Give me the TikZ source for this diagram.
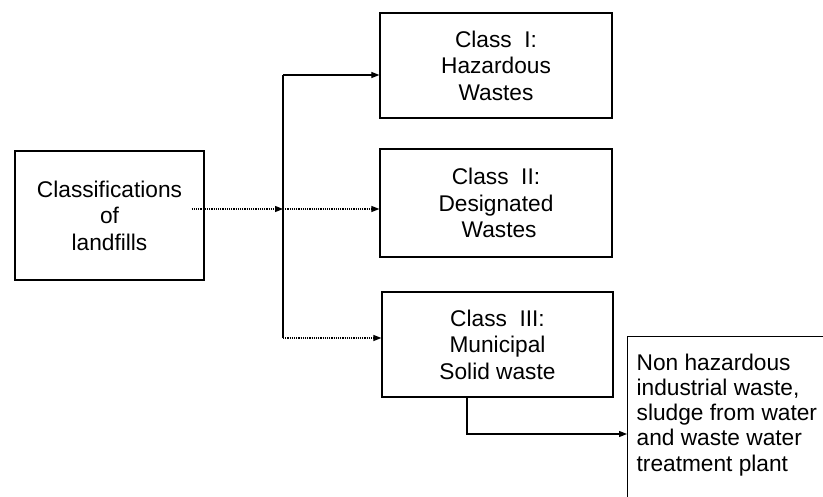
\documentclass[tikz,border=0pt]{standalone}
\usepackage{fontspec}
\setmainfont{Liberation Sans}
\usetikzlibrary{arrows.meta}
\begin{document}
\begin{tikzpicture}[x=1pt,y=-1pt,
  box/.style={draw, line width=1.3pt, align=center, inner sep=0pt},
  txt/.style={font=\fontsize{22.7}{26.5}\selectfont},
  conn/.style={line width=1.2pt},
  dotconn/.style={line width=1.2pt, densely dotted},
  tip/.style={-{Triangle[length=8pt,width=6pt]}}]
\useasboundingbox (0,0) rectangle (823,497);
\fill[white] (0,0) rectangle (823,497);
\node[box, txt, minimum width=189pt, minimum height=129pt] (cls) at (109.5,215.5) {Classifications\\of\\landfills};
\node[box, txt, minimum width=232pt, minimum height=105pt] (c1) at (496,65.5) {Class\ \ I:\\Hazardous\\Wastes};
\node[box, txt, minimum width=232pt, minimum height=108pt] (c2) at (496,203) {Class\ \ II:\\Designated\\\ Wastes};
\node[box, txt, minimum width=231pt, minimum height=105pt] (c3) at (497.5,344.5) {Class\ \ III:\\Municipal\\Solid waste};
\node[draw, line width=1.3pt, txt, anchor=north west, inner xsep=9pt, inner ysep=17pt] (nh) at (627,336)
  {\parbox[t][170pt][t]{300pt}{\raggedright\fontsize{22.7}{25.3}\selectfont Non hazardous\\industrial waste,\\sludge from water\\and waste water\\treatment plant}};
\coordinate (J) at (283,209);
\coordinate (T) at (283,75);
\coordinate (B) at (283,338);
\coordinate (K) at (467,434);
\draw[conn] (T) -- (B);
\draw[dotconn, tip] ([xshift=-13pt,yshift=6.5pt]cls.east) -- (J);
\draw[dotconn, tip] (J) -- (J -| c2.west);
\draw[conn, tip] (T) -- (T -| c1.west);
\draw[dotconn, tip] (B) -- (B -| c3.west);
\draw[conn, tip] (c3.south -| K) -- (K) -- (K -| nh.west);
\end{tikzpicture}
\end{document}
